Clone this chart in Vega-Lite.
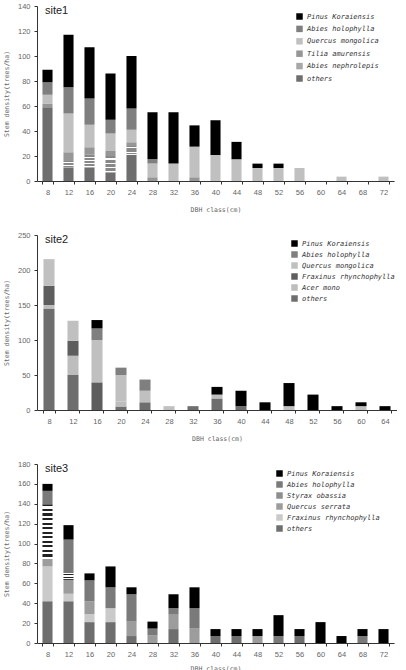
{
  "$schema": "https://vega.github.io/schema/vega-lite/v6.json",
  "padding": {"left": 3, "top": 2, "right": 0, "bottom": 0},
  "spacing": 18,
  "background": "white",
  "config": {
    "view": {"stroke": null},
    "axis": {
      "labelFont": "Liberation Sans", "labelFontSize": 7.5, "labelColor": "#666",
      "titleFont": "DejaVu Sans Mono", "titleFontSize": 6.5, "titleColor": "#666", "titleFontWeight": "normal",
      "domainColor": "#333", "tickColor": "#333", "grid": false, "tickSize": 3, "labelPadding": 4
    },
    "legend": {
      "orient": "none", "title": null, "symbolType": "square", "symbolSize": 42, "symbolStrokeWidth": 0,
      "labelFont": "DejaVu Sans Mono", "labelFontStyle": "italic", "labelFontSize": 7, "labelColor": "#333",
      "labelOffset": 4, "padding": 0
    },
    "title": {"anchor": "start", "frame": "group", "font": "Liberation Sans", "fontSize": 11, "fontWeight": "normal", "color": "#222", "dx": 8, "offset": -14}
  },
  "datasets": {
    "rank1": [
      {"species": "others", "rank": 1}, {"species": "Abies nephrolepis", "rank": 2}, {"species": "Tilia amurensis", "rank": 3},
      {"species": "Quercus mongolica", "rank": 4}, {"species": "Abies holophylla", "rank": 5}, {"species": "Pinus Koraiensis", "rank": 6}
    ],
    "rank2": [
      {"species": "others", "rank": 1}, {"species": "Acer mono", "rank": 2}, {"species": "Fraxinus rhynchophylla", "rank": 3},
      {"species": "Quercus mongolica", "rank": 4}, {"species": "Abies holophylla", "rank": 5}, {"species": "Pinus Koraiensis", "rank": 6}
    ],
    "rank3": [
      {"species": "others", "rank": 1}, {"species": "Fraxinus rhynchophylla", "rank": 2}, {"species": "Quercus serrata", "rank": 3},
      {"species": "Styrax obassia", "rank": 4}, {"species": "Abies holophylla", "rank": 5}, {"species": "Pinus Koraiensis", "rank": 6}
    ],
    "site1": [
      {"dbh": 8, "species": "others", "density": 59},
      {"dbh": 8, "species": "Tilia amurensis", "density": 3},
      {"dbh": 8, "species": "Quercus mongolica", "density": 7},
      {"dbh": 8, "species": "Abies holophylla", "density": 10},
      {"dbh": 8, "species": "Pinus Koraiensis", "density": 10},
      {"dbh": 12, "species": "others", "density": 11},
      {"dbh": 12, "species": "Abies nephrolepis", "density": 5},
      {"dbh": 12, "species": "Tilia amurensis", "density": 7},
      {"dbh": 12, "species": "Quercus mongolica", "density": 31},
      {"dbh": 12, "species": "Abies holophylla", "density": 21},
      {"dbh": 12, "species": "Pinus Koraiensis", "density": 42},
      {"dbh": 16, "species": "others", "density": 11},
      {"dbh": 16, "species": "Abies nephrolepis", "density": 10},
      {"dbh": 16, "species": "Tilia amurensis", "density": 6},
      {"dbh": 16, "species": "Quercus mongolica", "density": 18},
      {"dbh": 16, "species": "Abies holophylla", "density": 21},
      {"dbh": 16, "species": "Pinus Koraiensis", "density": 41},
      {"dbh": 20, "species": "others", "density": 7},
      {"dbh": 20, "species": "Abies nephrolepis", "density": 13},
      {"dbh": 20, "species": "Tilia amurensis", "density": 4},
      {"dbh": 20, "species": "Quercus mongolica", "density": 14},
      {"dbh": 20, "species": "Abies holophylla", "density": 11},
      {"dbh": 20, "species": "Pinus Koraiensis", "density": 37},
      {"dbh": 24, "species": "others", "density": 21},
      {"dbh": 24, "species": "Abies nephrolepis", "density": 7},
      {"dbh": 24, "species": "Tilia amurensis", "density": 3},
      {"dbh": 24, "species": "Quercus mongolica", "density": 10},
      {"dbh": 24, "species": "Abies holophylla", "density": 17},
      {"dbh": 24, "species": "Pinus Koraiensis", "density": 42},
      {"dbh": 28, "species": "Tilia amurensis", "density": 3},
      {"dbh": 28, "species": "Quercus mongolica", "density": 11},
      {"dbh": 28, "species": "Abies holophylla", "density": 3.5},
      {"dbh": 28, "species": "Pinus Koraiensis", "density": 37.5},
      {"dbh": 32, "species": "Quercus mongolica", "density": 14},
      {"dbh": 32, "species": "Pinus Koraiensis", "density": 41},
      {"dbh": 36, "species": "Tilia amurensis", "density": 3},
      {"dbh": 36, "species": "Quercus mongolica", "density": 24.5},
      {"dbh": 36, "species": "Pinus Koraiensis", "density": 17},
      {"dbh": 40, "species": "Quercus mongolica", "density": 20.8},
      {"dbh": 40, "species": "Pinus Koraiensis", "density": 27.8},
      {"dbh": 44, "species": "Quercus mongolica", "density": 17.4},
      {"dbh": 44, "species": "Pinus Koraiensis", "density": 13.9},
      {"dbh": 48, "species": "Quercus mongolica", "density": 10.4},
      {"dbh": 48, "species": "Pinus Koraiensis", "density": 3.5},
      {"dbh": 52, "species": "Quercus mongolica", "density": 10.4},
      {"dbh": 52, "species": "Pinus Koraiensis", "density": 3.5},
      {"dbh": 56, "species": "Quercus mongolica", "density": 10.4},
      {"dbh": 64, "species": "Quercus mongolica", "density": 3.5},
      {"dbh": 72, "species": "Quercus mongolica", "density": 3.5}
    ],
    "site2": [
      {"dbh": 8, "species": "others", "density": 145},
      {"dbh": 8, "species": "Acer mono", "density": 5},
      {"dbh": 8, "species": "Fraxinus rhynchophylla", "density": 27.5},
      {"dbh": 8, "species": "Quercus mongolica", "density": 38},
      {"dbh": 12, "species": "others", "density": 50},
      {"dbh": 12, "species": "Acer mono", "density": 27.5},
      {"dbh": 12, "species": "Fraxinus rhynchophylla", "density": 21.5},
      {"dbh": 12, "species": "Quercus mongolica", "density": 28.5},
      {"dbh": 16, "species": "Fraxinus rhynchophylla", "density": 39.5},
      {"dbh": 16, "species": "Quercus mongolica", "density": 60.5},
      {"dbh": 16, "species": "Abies holophylla", "density": 16.5},
      {"dbh": 16, "species": "Pinus Koraiensis", "density": 12},
      {"dbh": 20, "species": "others", "density": 5},
      {"dbh": 20, "species": "Acer mono", "density": 7},
      {"dbh": 20, "species": "Quercus mongolica", "density": 38},
      {"dbh": 20, "species": "Abies holophylla", "density": 10.5},
      {"dbh": 24, "species": "others", "density": 11},
      {"dbh": 24, "species": "Quercus mongolica", "density": 16.5},
      {"dbh": 24, "species": "Abies holophylla", "density": 16},
      {"dbh": 28, "species": "Quercus mongolica", "density": 5.5},
      {"dbh": 32, "species": "others", "density": 5.5},
      {"dbh": 36, "species": "others", "density": 16.5},
      {"dbh": 36, "species": "Quercus mongolica", "density": 5.5},
      {"dbh": 36, "species": "Pinus Koraiensis", "density": 11},
      {"dbh": 40, "species": "others", "density": 5.5},
      {"dbh": 40, "species": "Pinus Koraiensis", "density": 22},
      {"dbh": 44, "species": "Pinus Koraiensis", "density": 11},
      {"dbh": 48, "species": "Quercus mongolica", "density": 5.5},
      {"dbh": 48, "species": "Pinus Koraiensis", "density": 33},
      {"dbh": 52, "species": "Pinus Koraiensis", "density": 22},
      {"dbh": 56, "species": "Pinus Koraiensis", "density": 5.5},
      {"dbh": 60, "species": "Quercus mongolica", "density": 5.5},
      {"dbh": 60, "species": "Pinus Koraiensis", "density": 5.5},
      {"dbh": 64, "species": "Pinus Koraiensis", "density": 5.5}
    ],
    "site3": [
      {"dbh": 8, "species": "others", "density": 42},
      {"dbh": 8, "species": "Fraxinus rhynchophylla", "density": 35},
      {"dbh": 8, "species": "Quercus serrata", "density": 7.5},
      {"dbh": 8, "species": "Styrax obassia", "density": 55},
      {"dbh": 8, "species": "Abies holophylla", "density": 13.5},
      {"dbh": 8, "species": "Pinus Koraiensis", "density": 7},
      {"dbh": 12, "species": "others", "density": 42},
      {"dbh": 12, "species": "Fraxinus rhynchophylla", "density": 7.5},
      {"dbh": 12, "species": "Quercus serrata", "density": 14},
      {"dbh": 12, "species": "Styrax obassia", "density": 7.5},
      {"dbh": 12, "species": "Abies holophylla", "density": 33},
      {"dbh": 12, "species": "Pinus Koraiensis", "density": 14.5},
      {"dbh": 16, "species": "others", "density": 21},
      {"dbh": 16, "species": "Fraxinus rhynchophylla", "density": 8},
      {"dbh": 16, "species": "Quercus serrata", "density": 13},
      {"dbh": 16, "species": "Abies holophylla", "density": 21},
      {"dbh": 16, "species": "Pinus Koraiensis", "density": 7},
      {"dbh": 20, "species": "others", "density": 21},
      {"dbh": 20, "species": "Fraxinus rhynchophylla", "density": 14},
      {"dbh": 20, "species": "Abies holophylla", "density": 21},
      {"dbh": 20, "species": "Pinus Koraiensis", "density": 21},
      {"dbh": 24, "species": "others", "density": 7},
      {"dbh": 24, "species": "Quercus serrata", "density": 14.5},
      {"dbh": 24, "species": "Abies holophylla", "density": 27.5},
      {"dbh": 24, "species": "Pinus Koraiensis", "density": 7},
      {"dbh": 28, "species": "Quercus serrata", "density": 7.5},
      {"dbh": 28, "species": "Abies holophylla", "density": 7},
      {"dbh": 28, "species": "Pinus Koraiensis", "density": 7},
      {"dbh": 32, "species": "others", "density": 14},
      {"dbh": 32, "species": "Quercus serrata", "density": 14.5},
      {"dbh": 32, "species": "Abies holophylla", "density": 6.5},
      {"dbh": 32, "species": "Pinus Koraiensis", "density": 14},
      {"dbh": 36, "species": "Quercus serrata", "density": 14.5},
      {"dbh": 36, "species": "Abies holophylla", "density": 20.5},
      {"dbh": 36, "species": "Pinus Koraiensis", "density": 21},
      {"dbh": 40, "species": "others", "density": 7},
      {"dbh": 40, "species": "Pinus Koraiensis", "density": 7},
      {"dbh": 44, "species": "others", "density": 7},
      {"dbh": 44, "species": "Pinus Koraiensis", "density": 7},
      {"dbh": 48, "species": "Quercus serrata", "density": 7},
      {"dbh": 48, "species": "Pinus Koraiensis", "density": 7},
      {"dbh": 52, "species": "Abies holophylla", "density": 7},
      {"dbh": 52, "species": "Pinus Koraiensis", "density": 21},
      {"dbh": 56, "species": "others", "density": 7},
      {"dbh": 56, "species": "Pinus Koraiensis", "density": 7},
      {"dbh": 60, "species": "Pinus Koraiensis", "density": 21},
      {"dbh": 64, "species": "Pinus Koraiensis", "density": 7},
      {"dbh": 68, "species": "Abies holophylla", "density": 7},
      {"dbh": 68, "species": "Pinus Koraiensis", "density": 7},
      {"dbh": 72, "species": "Pinus Koraiensis", "density": 14}
    ]
  },
  "vconcat": [
    {
      "width": 357, "height": 175,
      "data": {"name": "site1"},
      "transform": [{"lookup": "species", "from": {"data": {"name": "rank1"}, "key": "species", "fields": ["rank"]}}],
      "title": {"text": "site1"},
      "mark": {"type": "bar"},
      "encoding": {
        "x": {"field": "dbh", "type": "ordinal",
          "scale": {"domain": [8,12,16,20,24,28,32,36,40,44,48,52,56,60,64,68,72], "paddingInner": 0.52, "paddingOuter": 0.26},
          "axis": {"labelAngle": 0, "title": "DBH class(cm)", "tickBand": "extent", "titlePadding": 11}},
        "y": {"field": "density", "type": "quantitative", "stack": "zero",
          "scale": {"domain": [0, 140]},
          "axis": {"values": [0,20,40,60,80,100,120,140], "title": "Stem density(trees/ha)", "titlePadding": 8}},
        "color": {"field": "species", "type": "nominal",
          "condition": {"test": "datum.species === 'Abies nephrolepis'",
            "value": {"gradient": "linear", "x1": 0, "y1": 0, "x2": 0, "y2": 1, "stops": [
              {"offset": 0, "color": "#888888"}, {"offset": 0.15, "color": "#888888"}, {"offset": 0.15, "color": "#ffffff"}, {"offset": 0.25, "color": "#ffffff"},
              {"offset": 0.25, "color": "#888888"}, {"offset": 0.4, "color": "#888888"}, {"offset": 0.4, "color": "#ffffff"}, {"offset": 0.5, "color": "#ffffff"},
              {"offset": 0.5, "color": "#888888"}, {"offset": 0.65, "color": "#888888"}, {"offset": 0.65, "color": "#ffffff"}, {"offset": 0.75, "color": "#ffffff"},
              {"offset": 0.75, "color": "#888888"}, {"offset": 0.9, "color": "#888888"}, {"offset": 0.9, "color": "#ffffff"}, {"offset": 1, "color": "#ffffff"}]}},
          "scale": {"domain": ["Pinus Koraiensis", "Abies holophylla", "Quercus mongolica", "Tilia amurensis", "Abies nephrolepis", "others"],
                    "range": ["#000000", "#7f7f7f", "#c0c0c0", "#969696", "#a8a8a8", "#6e6e6e"]},
          "legend": {"legendX": 259, "legendY": 7, "rowPadding": 4.4}},
        "order": {"field": "rank", "type": "quantitative", "sort": "ascending"}
      }
    },
    {
      "width": 360, "height": 175,
      "data": {"name": "site2"},
      "transform": [{"lookup": "species", "from": {"data": {"name": "rank2"}, "key": "species", "fields": ["rank"]}}],
      "title": {"text": "site2"},
      "mark": {"type": "bar"},
      "encoding": {
        "x": {"field": "dbh", "type": "ordinal",
          "scale": {"domain": [8,12,16,20,24,28,32,36,40,44,48,52,56,60,64], "paddingInner": 0.54, "paddingOuter": 0.27},
          "axis": {"labelAngle": 0, "title": "DBH class(cm)", "tickBand": "extent", "titlePadding": 11}},
        "y": {"field": "density", "type": "quantitative", "stack": "zero",
          "scale": {"domain": [0, 250]},
          "axis": {"values": [0,50,100,150,200,250], "title": "Stem density(trees/ha)", "titlePadding": 8}},
        "color": {"field": "species", "type": "nominal",
          "scale": {"domain": ["Pinus Koraiensis", "Abies holophylla", "Quercus mongolica", "Fraxinus rhynchophylla", "Acer mono", "others"],
                    "range": ["#000000", "#7f7f7f", "#c0c0c0", "#5e5e5e", "#bdbdbd", "#6e6e6e"]},
          "legend": {"legendX": 254, "legendY": 5, "rowPadding": 3}},
        "order": {"field": "rank", "type": "quantitative", "sort": "ascending"}
      }
    },
    {
      "width": 357, "height": 179,
      "data": {"name": "site3"},
      "transform": [{"lookup": "species", "from": {"data": {"name": "rank3"}, "key": "species", "fields": ["rank"]}}],
      "title": {"text": "site3"},
      "mark": {"type": "bar"},
      "encoding": {
        "x": {"field": "dbh", "type": "ordinal",
          "scale": {"domain": [8,12,16,20,24,28,32,36,40,44,48,52,56,60,64,68,72], "paddingInner": 0.52, "paddingOuter": 0.26},
          "axis": {"labelAngle": 0, "title": "DBH class(cm)", "tickBand": "extent", "titlePadding": 8}},
        "y": {"field": "density", "type": "quantitative", "stack": "zero",
          "scale": {"domain": [0, 180]},
          "axis": {"values": [0,20,40,60,80,100,120,140,160,180], "title": "Stem density(trees/ha)", "titlePadding": 8}},
        "color": {"field": "species", "type": "nominal",
          "condition": {"test": "datum.species === 'Styrax obassia'",
            "value": {"gradient": "linear", "x1": 0, "y1": 0, "x2": 0, "y2": 1, "stops": [
              {"offset": 0, "color": "#222222"}, {"offset": 0.04, "color": "#222222"}, {"offset": 0.04, "color": "#ffffff"}, {"offset": 0.0833, "color": "#ffffff"},
              {"offset": 0.0833, "color": "#222222"}, {"offset": 0.1233, "color": "#222222"}, {"offset": 0.1233, "color": "#ffffff"}, {"offset": 0.1667, "color": "#ffffff"},
              {"offset": 0.1667, "color": "#222222"}, {"offset": 0.2067, "color": "#222222"}, {"offset": 0.2067, "color": "#ffffff"}, {"offset": 0.25, "color": "#ffffff"},
              {"offset": 0.25, "color": "#222222"}, {"offset": 0.29, "color": "#222222"}, {"offset": 0.29, "color": "#ffffff"}, {"offset": 0.3333, "color": "#ffffff"},
              {"offset": 0.3333, "color": "#222222"}, {"offset": 0.3733, "color": "#222222"}, {"offset": 0.3733, "color": "#ffffff"}, {"offset": 0.4167, "color": "#ffffff"},
              {"offset": 0.4167, "color": "#222222"}, {"offset": 0.4567, "color": "#222222"}, {"offset": 0.4567, "color": "#ffffff"}, {"offset": 0.5, "color": "#ffffff"},
              {"offset": 0.5, "color": "#222222"}, {"offset": 0.54, "color": "#222222"}, {"offset": 0.54, "color": "#ffffff"}, {"offset": 0.5833, "color": "#ffffff"},
              {"offset": 0.5833, "color": "#222222"}, {"offset": 0.6233, "color": "#222222"}, {"offset": 0.6233, "color": "#ffffff"}, {"offset": 0.6667, "color": "#ffffff"},
              {"offset": 0.6667, "color": "#222222"}, {"offset": 0.7067, "color": "#222222"}, {"offset": 0.7067, "color": "#ffffff"}, {"offset": 0.75, "color": "#ffffff"},
              {"offset": 0.75, "color": "#222222"}, {"offset": 0.79, "color": "#222222"}, {"offset": 0.79, "color": "#ffffff"}, {"offset": 0.8333, "color": "#ffffff"},
              {"offset": 0.8333, "color": "#222222"}, {"offset": 0.8733, "color": "#222222"}, {"offset": 0.8733, "color": "#ffffff"}, {"offset": 0.9167, "color": "#ffffff"},
              {"offset": 0.9167, "color": "#222222"}, {"offset": 0.9567, "color": "#222222"}, {"offset": 0.9567, "color": "#ffffff"}, {"offset": 1, "color": "#ffffff"}]}},
          "scale": {"domain": ["Pinus Koraiensis", "Abies holophylla", "Styrax obassia", "Quercus serrata", "Fraxinus rhynchophylla", "others"],
                    "range": ["#000000", "#7a7a7a", "#8e8e8e", "#9c9c9c", "#cacaca", "#6e6e6e"]},
          "legend": {"legendX": 239, "legendY": 6, "rowPadding": 3}},
        "order": {"field": "rank", "type": "quantitative", "sort": "ascending"}
      }
    }
  ],
  "resolve": {"scale": {"color": "independent"}, "legend": {"color": "independent"}}
}
